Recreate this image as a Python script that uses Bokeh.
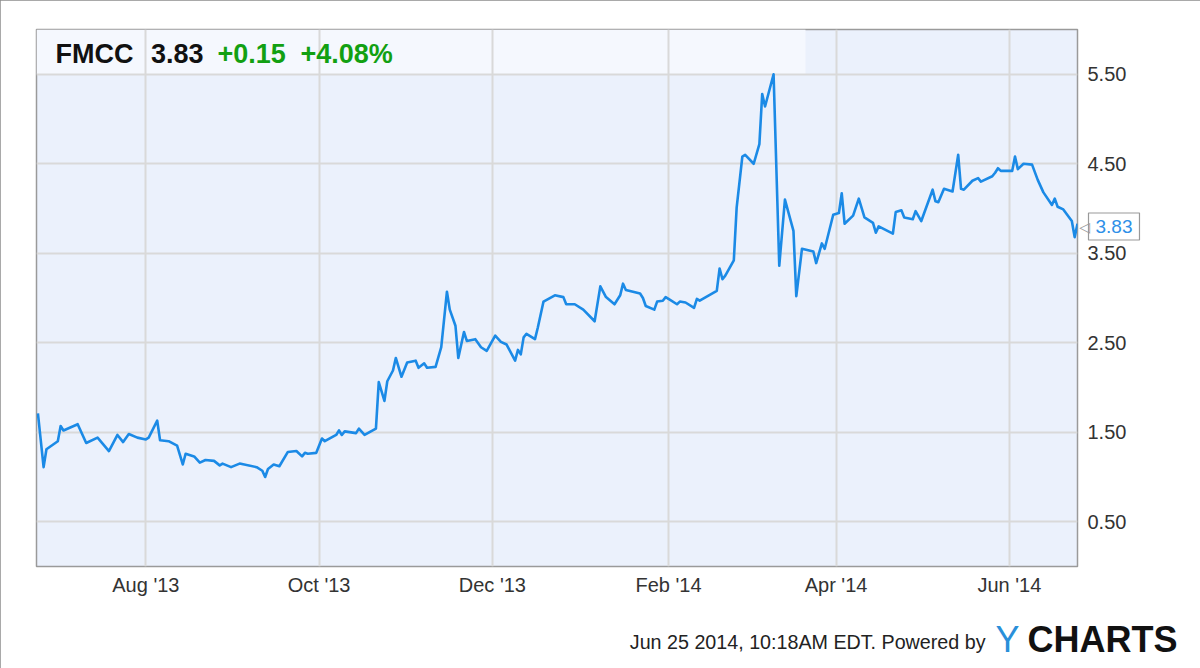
import pandas as pd
from bokeh.plotting import figure
from bokeh.models import (Range1d, FixedTicker, DatetimeTickFormatter, PrintfTickFormatter,
                          Label, BoxAnnotation)
from bokeh.embed import file_html
from bokeh.resources import INLINE

# ---------------- data ----------------
dates = [
    "2013-06-24", "2013-06-26", "2013-06-27", "2013-07-01", "2013-07-02", "2013-07-03",
    "2013-07-08", "2013-07-11", "2013-07-15", "2013-07-19", "2013-07-22", "2013-07-24",
    "2013-07-26", "2013-07-29", "2013-08-01", "2013-08-02", "2013-08-05", "2013-08-06",
    "2013-08-09", "2013-08-12", "2013-08-14", "2013-08-15", "2013-08-18", "2013-08-20",
    "2013-08-22", "2013-08-25", "2013-08-27", "2013-08-28", "2013-08-31", "2013-09-03",
    "2013-09-09", "2013-09-11", "2013-09-12", "2013-09-13", "2013-09-15", "2013-09-17",
    "2013-09-20", "2013-09-23", "2013-09-25", "2013-09-26", "2013-09-27", "2013-09-30",
    "2013-10-02", "2013-10-03", "2013-10-07", "2013-10-08", "2013-10-09", "2013-10-10",
    "2013-10-14", "2013-10-15", "2013-10-17", "2013-10-21", "2013-10-22", "2013-10-24",
    "2013-10-25", "2013-10-27", "2013-10-28", "2013-10-30", "2013-11-01", "2013-11-04",
    "2013-11-05", "2013-11-07", "2013-11-08", "2013-11-11", "2013-11-13", "2013-11-15",
    "2013-11-16", "2013-11-18", "2013-11-19", "2013-11-21", "2013-11-22", "2013-11-25",
    "2013-11-27", "2013-11-29", "2013-12-02", "2013-12-04", "2013-12-06", "2013-12-09",
    "2013-12-10", "2013-12-11", "2013-12-12", "2013-12-13", "2013-12-16", "2013-12-17",
    "2013-12-19", "2013-12-23", "2013-12-26", "2013-12-27", "2013-12-30", "2014-01-02",
    "2014-01-06", "2014-01-08", "2014-01-10", "2014-01-13", "2014-01-15", "2014-01-16",
    "2014-01-17", "2014-01-22", "2014-01-23", "2014-01-24", "2014-01-27", "2014-01-28",
    "2014-01-30", "2014-01-31", "2014-02-01", "2014-02-04", "2014-02-05", "2014-02-07",
    "2014-02-10", "2014-02-11", "2014-02-12", "2014-02-18", "2014-02-19", "2014-02-20",
    "2014-02-21", "2014-02-24", "2014-02-25", "2014-02-27", "2014-02-28", "2014-03-03",
    "2014-03-05", "2014-03-06", "2014-03-07", "2014-03-10", "2014-03-12", "2014-03-14",
    "2014-03-17", "2014-03-18", "2014-03-20", "2014-03-24", "2014-03-25", "2014-03-27",
    "2014-03-28", "2014-03-31", "2014-04-02", "2014-04-03", "2014-04-04", "2014-04-07",
    "2014-04-09", "2014-04-11", "2014-04-14", "2014-04-15", "2014-04-16", "2014-04-21",
    "2014-04-22", "2014-04-24", "2014-04-25", "2014-04-28", "2014-04-29", "2014-05-01",
    "2014-05-05", "2014-05-06", "2014-05-07", "2014-05-09", "2014-05-12", "2014-05-14",
    "2014-05-15", "2014-05-16", "2014-05-19", "2014-05-21", "2014-05-22", "2014-05-26",
    "2014-05-27", "2014-05-28", "2014-05-29", "2014-06-02", "2014-06-03", "2014-06-04",
    "2014-06-06", "2014-06-09", "2014-06-11", "2014-06-13", "2014-06-16", "2014-06-17",
    "2014-06-18", "2014-06-20", "2014-06-23", "2014-06-24", "2014-06-25",
]
prices = [
    1.71, 1.11, 1.31, 1.40, 1.57, 1.52,
    1.59, 1.38, 1.44, 1.29, 1.47, 1.39,
    1.48, 1.44, 1.42, 1.44, 1.63, 1.41,
    1.40, 1.35, 1.14, 1.26, 1.23, 1.16,
    1.19, 1.18, 1.13, 1.15, 1.11, 1.15,
    1.11, 1.07, 1.00, 1.09, 1.14, 1.12,
    1.28, 1.29, 1.23, 1.27, 1.26, 1.27,
    1.43, 1.40, 1.47, 1.52, 1.47, 1.51,
    1.49, 1.54, 1.47, 1.54, 2.06, 1.85,
    2.07, 2.19, 2.33, 2.12, 2.28, 2.30,
    2.22, 2.27, 2.22, 2.23, 2.45, 3.07,
    2.87, 2.69, 2.33, 2.62, 2.52, 2.54,
    2.45, 2.41, 2.58, 2.51, 2.48, 2.30,
    2.42, 2.37, 2.56, 2.60, 2.54, 2.67,
    2.96, 3.03, 3.01, 2.93, 2.93, 2.87,
    2.74, 3.13, 3.01, 2.93, 3.03, 3.16,
    3.09, 3.05, 3.00, 2.91, 2.87, 2.96,
    2.97, 3.01, 2.99, 2.93, 2.96, 2.95,
    2.89, 2.99, 2.97, 3.08, 3.33, 3.21,
    3.25, 3.42, 4.01, 4.58, 4.60, 4.50,
    4.72, 5.28, 5.14, 5.50, 3.36, 4.10,
    3.75, 3.02, 3.55, 3.52, 3.39, 3.61,
    3.55, 3.93, 3.95, 4.17, 3.83, 3.92,
    4.11, 3.90, 3.84, 3.73, 3.80, 3.72,
    3.96, 3.98, 3.90, 3.88, 3.97, 3.86,
    4.21, 4.08, 4.07, 4.22, 4.19, 4.60,
    4.22, 4.21, 4.31, 4.34, 4.30, 4.36,
    4.40, 4.45, 4.42, 4.42, 4.58, 4.44,
    4.50, 4.49, 4.32, 4.18, 4.04, 4.11,
    4.02, 3.99, 3.86, 3.68, 3.83,
]
x_tick_dates = ["2013-08-01", "2013-10-01", "2013-12-01", "2014-02-01", "2014-04-01", "2014-06-01"]
y_tick_values = [0.5, 1.5, 2.5, 3.5, 4.5, 5.5]
symbol = "FMCC"
last_price = "3.83"
change_abs = "+0.15"
change_pct = "+4.08%"
footer_text = "Jun 25 2014, 10:18AM EDT. Powered by"

# ---------------- layout ----------------
FONT = "Liberation Sans"
W, H = 1200, 668
ML, MT, MR, MB = 36, 29, 123, 102
FW, FH = W - ML - MR, H - MT - MB

x_start = pd.Timestamp("2013-06-23 12:00")
x_end = pd.Timestamp("2014-06-25 00:00")
y_start, y_end = 0.0, 6.0


def ms(t):
    return pd.Timestamp(t).value / 1e6


XS0, XS1 = ms(x_start), ms(x_end)


def fx(px):  # canvas pixel x -> data x
    return XS0 + (px - ML) * (XS1 - XS0) / FW


def fy(py):  # canvas pixel y -> data y
    return y_end - (py - MT) * (y_end - y_start) / FH


p = figure(width=W, height=H, x_axis_type="datetime",
           x_range=Range1d(x_start, x_end), y_range=Range1d(y_start, y_end),
           y_axis_location="right", toolbar_location=None, output_backend="svg",
           min_border_left=ML, min_border_right=MR, min_border_top=MT, min_border_bottom=MB)
p.styles = {"outline": "2px solid #8c8c8c", "outline-offset": "-2px"}

p.background_fill_color = "#EBF1FC"
p.border_fill_color = "white"
p.outline_line_color = "#9a9a9a"
p.outline_line_width = 1.5

# grids
p.xgrid.ticker = FixedTicker(ticks=[ms(d) for d in x_tick_dates])
p.ygrid.ticker = FixedTicker(ticks=y_tick_values)
for g in (p.xgrid, p.ygrid):
    g.grid_line_color = "#d9d9d9"
    g.grid_line_width = 2

# axes
xa = p.xaxis[0]
xa.ticker = FixedTicker(ticks=[ms(d) for d in x_tick_dates])
fmt = "%b '%y"
xa.formatter = DatetimeTickFormatter(days=fmt, months=fmt, years=fmt, hours=fmt,
                                     minutes=fmt, seconds=fmt, context=None)
ya = p.yaxis[0]
ya.ticker = FixedTicker(ticks=y_tick_values)
ya.formatter = PrintfTickFormatter(format="%.2f")
for ax in (xa, ya):
    ax.axis_line_color = None
    ax.major_tick_line_color = None
    ax.minor_tick_line_color = None
    ax.major_tick_out = 0
    ax.minor_tick_out = 0
    ax.major_label_text_font = FONT
    ax.major_label_text_font_size = "20px"
    ax.major_label_text_color = "#333333"
xa.major_label_standoff = 7
ya.major_label_standoff = 10

# header box
p.add_layout(BoxAnnotation(left=XS0, right=fx(805), bottom=5.5, top=y_end,
                           fill_color="#F5F8FE", fill_alpha=1.0, line_color=None,
                           level="image"))

# price line
p.line(pd.to_datetime(dates), prices, line_color="#1B8AE6", line_width=2.6,
       line_join="round")

# header text
head_y = fy(53)
for txt, px, col in [(symbol, 55, "#111111"),
                     (last_price, 150.5, "#111111"),
                     (change_abs, 217, "#12A012"),
                     (change_pct, 300, "#12A012")]:
    p.add_layout(Label(x=fx(px), y=head_y, text=txt, text_font=FONT,
                       text_font_size="27px", text_color=col, text_font_style="bold",
                       text_baseline="middle", text_align="left"))

# last value callout (in the right side panel, so it is not clipped by the frame)
p.add_layout(Label(x=fx(1088), y=fy(226), text=last_price, text_font=FONT,
                   text_font_size="19px", text_color="#2E90E8",
                   text_baseline="middle", text_align="left",
                   border_line_color="#999999", border_line_width=1.2,
                   background_fill_color="white", padding=7), "right")
p.add_layout(Label(x=fx(1089.5), y=fy(226.5), text="\u25C1", text_font="DejaVu Sans",
                   text_font_size="14px", text_color="#999999",
                   text_baseline="middle", text_align="right"), "right")

# footer (side panels: not clipped)
p.add_layout(Label(x=fx(985), y=fy(641), text=footer_text, text_font=FONT,
                   text_font_size="19.7px", text_color="#222222",
                   text_baseline="middle", text_align="right"), "above")
p.add_layout(Label(x=fx(995), y=fy(639), text="Y", text_font=FONT,
                   text_font_size="36px", text_color="#2A8FD9",
                   text_baseline="middle", text_align="left"), "left")
p.add_layout(Label(x=fx(1027), y=fy(639), text="CHARTS", text_font=FONT,
                   text_font_size="36px", text_color="#111111", text_font_style="bold",
                   text_baseline="middle", text_align="left"), "below")

open("out.html", "w").write(file_html(p, INLINE))
